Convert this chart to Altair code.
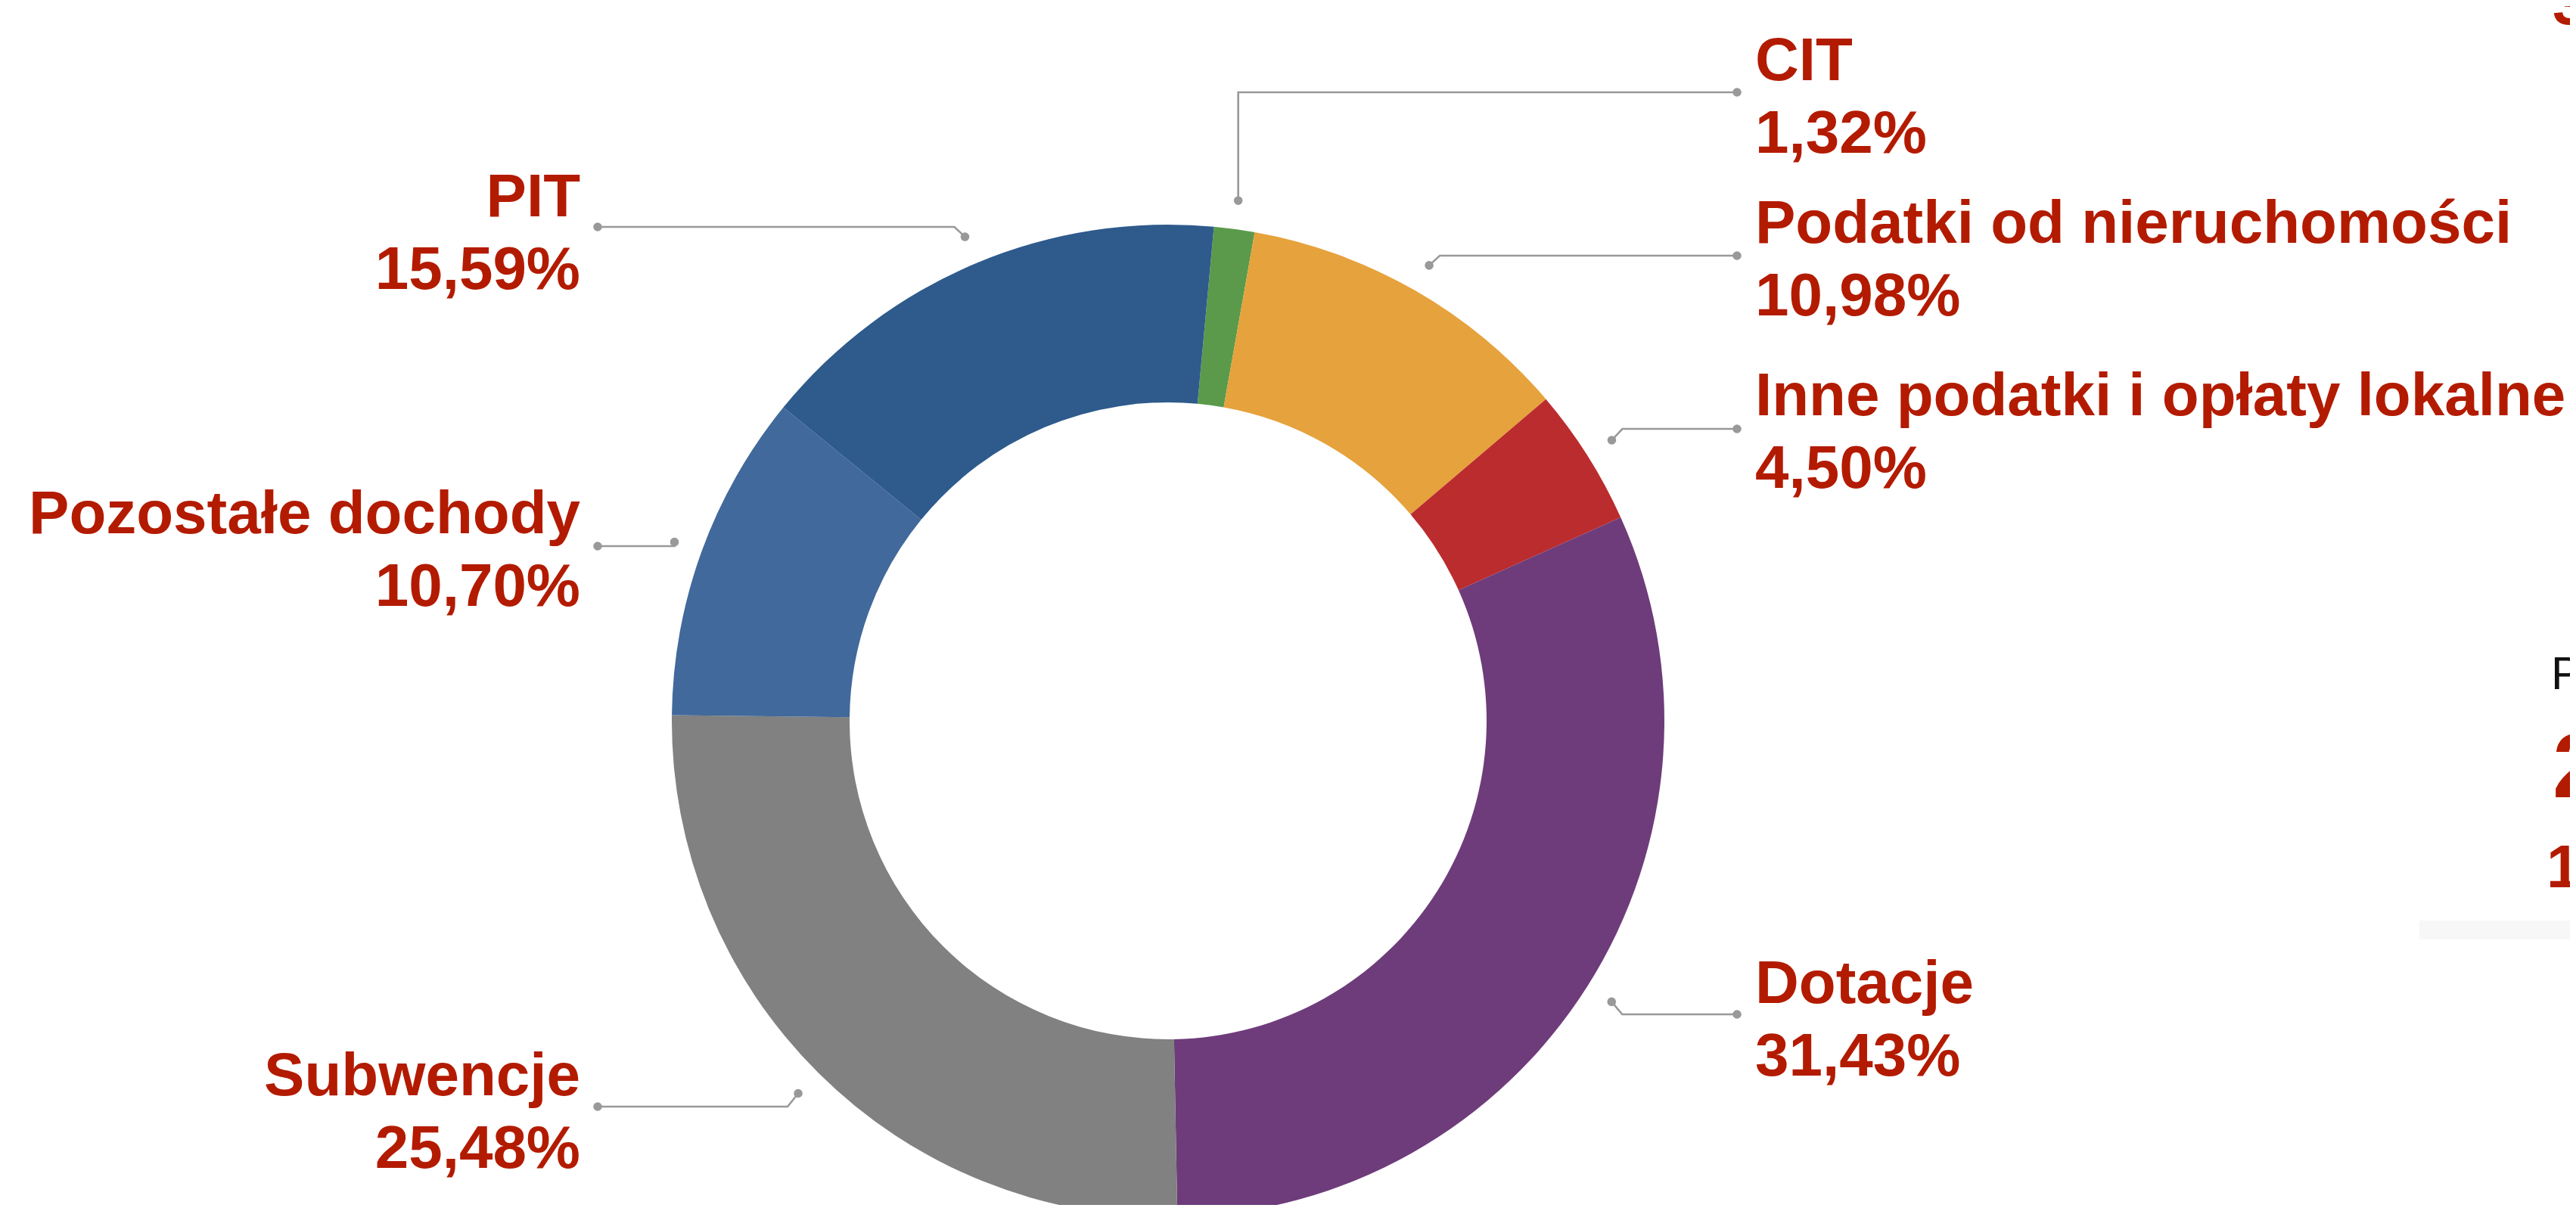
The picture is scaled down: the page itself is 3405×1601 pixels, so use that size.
import math
import altair as alt
import pandas as pd

# ---------------- data ----------------
categories = ["CIT", "Podatki od nieruchomości", "Inne podatki i opłaty lokalne",
              "Dotacje", "Subwencje", "Pozostałe dochody", "PIT"]
shares = [1.32, 10.98, 4.50, 31.43, 25.48, 10.70, 15.59]
colors = ["#5B9A4A", "#E6A23C", "#BB2C2E", "#6E3C7A", "#808180", "#41699B", "#2E5A8C"]

# partial elements of a neighbouring panel cut by the right edge
edge_texts = ["3", "2", "1"]
edge_sizes = [80, 121, 80]
edge_label_p = "P"

# ---------------- layout ----------------
W, H = 3389, 1585
M = 8
CX, CY = 1544 - M, 953 - M
R_OUT, R_IN, R_DOT = 656, 421, 694
START_DEG = 5.3
side = ["right", "right", "right", "right", "left", "left", "left"]
name_baseline = [106, 321, 549, 1326, 1448, 705, 286]
conn_y = [122, 338, 567, 1341, 1463, 722, 300]
elbow_dx = [0, 14, 14, 14, -14, 0, -14]
LABEL_X = {"right": 2320, "left": 767}
CONN_END_X = {"right": 2296, "left": 790}
LINE_GAP = 96
RED = "#B31B00"
GREY = "#999999"
FONT = "Liberation Sans"


def pct(v):
    return f"{v:.2f}".replace(".", ",") + "%"


xs = alt.Scale(domain=[0, W], nice=False, zero=False)
ys = alt.Scale(domain=[0, H], nice=False, zero=False, reverse=True)

# arc data
arc_df = pd.DataFrame({"cat": categories, "share": shares, "idx": list(range(len(categories)))})

# leader lines, dots, labels
lead_rows, dot_rows, text_rows = [], [], []
cum = 0.0
for i, (c, s) in enumerate(zip(categories, shares)):
    mid = math.radians(START_DEG + (cum + s / 2) * 3.6)
    cum += s
    dx = CX + R_DOT * math.sin(mid)
    dy = CY - R_DOT * math.cos(mid)
    ex = dx + elbow_dx[i]
    ey = conn_y[i] - M
    endx = CONN_END_X[side[i]] - M
    for k, (px, py) in enumerate([(dx, dy), (ex, ey), (endx, ey)]):
        lead_rows.append({"cat": c, "o": k, "x": px, "y": py})
    dot_rows.append({"x": dx, "y": dy})
    dot_rows.append({"x": endx, "y": ey})
    lx = LABEL_X[side[i]] - M
    text_rows.append({"side": side[i], "x": lx, "y": name_baseline[i] - M, "t": c})
    text_rows.append({"side": side[i], "x": lx, "y": name_baseline[i] - M + LINE_GAP, "t": pct(s)})

lead_df = pd.DataFrame(lead_rows)
dot_df = pd.DataFrame(dot_rows)
text_df = pd.DataFrame(text_rows)

edge_df = pd.DataFrame({
    "t": edge_texts,
    "size": edge_sizes,
    "x": [3374 - M, 3374 - M, 3366 - M],
    "y": [32 - M, 1054 - M, 1173 - M],
})
edge_p_df = pd.DataFrame({"t": [edge_label_p], "x": [3372 - M], "y": [911 - M]})
box_df = pd.DataFrame({"x": [3198 - M], "x2": [3420], "y": [1217 - M], "y2": [1242 - M]})

arc = alt.Chart(arc_df).mark_arc(radius=R_OUT, innerRadius=R_IN).encode(
    theta=alt.Theta("share:Q", stack=True,
                    scale=alt.Scale(range=[math.radians(START_DEG), math.radians(START_DEG) + 2 * math.pi])),
    order=alt.Order("idx:Q"),
    color=alt.Color("cat:N", scale=alt.Scale(domain=categories, range=colors), legend=None),
    x=alt.value(CX),
    y=alt.value(CY),
)

leaders = alt.Chart(lead_df).mark_line(color=GREY, strokeWidth=2.6).encode(
    x=alt.X("x:Q", scale=xs, axis=None),
    y=alt.Y("y:Q", scale=ys, axis=None),
    detail="cat:N",
    order="o:Q",
)

dots = alt.Chart(dot_df).mark_point(filled=True, color=GREY, size=135, opacity=1).encode(
    x=alt.X("x:Q", scale=xs, axis=None),
    y=alt.Y("y:Q", scale=ys, axis=None),
)

labels_right = alt.Chart(text_df).transform_filter(alt.datum.side == "right").mark_text(
    align="left", baseline="alphabetic", font=FONT, fontWeight="bold", fontSize=80, color=RED
).encode(
    x=alt.X("x:Q", scale=xs, axis=None),
    y=alt.Y("y:Q", scale=ys, axis=None),
    text="t:N",
)

labels_left = alt.Chart(text_df).transform_filter(alt.datum.side == "left").mark_text(
    align="right", baseline="alphabetic", font=FONT, fontWeight="bold", fontSize=80, color=RED
).encode(
    x=alt.X("x:Q", scale=xs, axis=None),
    y=alt.Y("y:Q", scale=ys, axis=None),
    text="t:N",
)

box = alt.Chart(box_df).mark_rect(color="#F7F7F7").encode(
    x=alt.X("x:Q", scale=xs, axis=None),
    x2="x2:Q",
    y=alt.Y("y:Q", scale=ys, axis=None),
    y2="y2:Q",
)

edge = alt.Chart(edge_df).mark_text(
    align="left", baseline="alphabetic", font=FONT, fontWeight="bold", color=RED
).encode(
    x=alt.X("x:Q", scale=xs, axis=None),
    y=alt.Y("y:Q", scale=ys, axis=None),
    size=alt.Size("size:Q", scale=None, legend=None),
    text="t:N",
)

edge_p = alt.Chart(edge_p_df).mark_text(
    align="left", baseline="alphabetic", font=FONT, fontSize=61, color="#111111"
).encode(
    x=alt.X("x:Q", scale=xs, axis=None),
    y=alt.Y("y:Q", scale=ys, axis=None),
    text="t:N",
)

chart = alt.layer(arc, leaders, dots, labels_right, labels_left, box, edge, edge_p).properties(
    width=W, height=H, padding=0, autosize=alt.AutoSizeParams(type="none")
).configure_view(stroke=None)

chart.save("out.html", embed_options={"renderer": "svg", "actions": False})
